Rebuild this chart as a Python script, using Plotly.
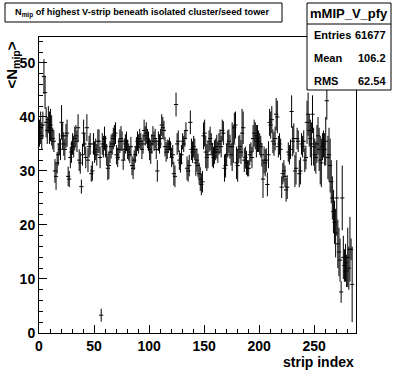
import plotly.graph_objects as go

# ---- data: mean N_mip per strip (profile), with errors ----
strip_values = [
    37.0, 38.0, 36.5, 38.5, 47.5, 44.5, 39.0, 37.5, 39.5, 38.0,
    38.5, 37.5, 36.0, 35.5, 30.0, 29.0, 31.5, 33.0, 35.0, 34.0,
    39.0, 36.5, 35.0, 34.0, 36.5, 37.0, 29.0, 28.5, 32.5, 33.5,
    35.0, 34.5, 36.0, 36.5, 35.5, 38.0, 32.0, 31.5, 27.1, 33.0,
    37.0, 35.0, 32.5, 38.0, 32.0, 34.5, 35.0, 29.5, 30.0, 35.0,
    33.5, 34.0, 33.0, 35.5, 35.5, 32.5, 3.3, 35.0, 34.5, 36.0,
    34.5, 33.0, 30.5, 31.0, 33.5, 34.5, 35.0, 36.0, 36.5, 37.0,
    33.0, 32.5, 34.0, 35.5, 36.0, 35.5, 32.0, 34.0, 35.0, 35.5,
    34.0, 33.5, 33.0, 34.5, 31.0, 30.5, 32.0, 33.0, 34.5, 35.5,
    35.0, 36.0, 35.5, 34.0, 35.0, 37.5, 36.5, 37.0, 36.0, 35.5,
    34.0, 33.5, 35.0, 36.5, 35.5, 36.0, 34.0, 30.0, 35.5, 35.0,
    36.0, 38.5, 38.0, 37.5, 34.5, 33.5, 34.0, 34.5, 35.0, 34.0,
    32.5, 33.0, 29.5, 29.0, 42.3, 35.0, 35.5, 32.0, 31.5, 33.0,
    35.5, 35.0, 36.0, 37.5, 30.5, 30.0, 31.0, 39.0, 34.0, 33.5,
    34.5, 34.0, 31.5, 32.0, 31.0, 29.5, 28.5, 27.5, 28.0, 36.5,
    37.0, 33.5, 32.5, 33.0, 35.5, 36.0, 35.0, 33.0, 32.5, 33.5,
    34.0, 34.5, 33.5, 35.0, 35.5, 34.5, 37.5, 37.0, 30.5, 31.0,
    33.0, 35.0, 35.5, 34.5, 33.0, 34.5, 35.0, 38.0, 38.5, 31.5,
    31.0, 34.0, 34.5, 33.5, 37.0, 38.0, 32.0, 32.5, 31.5, 30.5,
    30.5, 33.0, 33.5, 32.5, 36.0, 37.0, 36.5, 35.5, 36.0, 35.5,
    35.0, 34.5, 33.0, 28.5, 32.0, 31.5, 32.0, 27.5, 33.0, 39.0,
    38.5, 39.5, 35.5, 35.0, 36.0, 40.5, 40.0, 34.5, 35.0, 34.0,
    27.0, 29.5, 30.0, 29.0, 26.5, 27.0, 33.5, 33.0, 34.0, 41.0,
    35.5, 36.0, 30.0, 30.5, 36.0, 35.5, 29.5, 30.0, 35.0, 34.5,
    35.5, 32.0, 32.5, 39.0, 40.5, 37.5, 36.0, 35.0, 40.5, 34.5,
    33.0, 32.5, 35.0, 36.5, 34.0, 32.0, 31.5, 34.5, 35.0, 34.0,
    35.5, 43.0, 32.5, 33.0, 31.0, 28.0, 25.0, 22.5, 20.5, 18.5,
    25.0, 16.5, 15.0, 13.5, 7.6, 25.0, 14.0, 12.5, 13.0, 11.5,
    14.0, 12.0, 15.5, 15.5, 9.0, None, None, None,
]
strip_errors = [
    2.5, 3.0, 2.5, 2.5, 3.2, 3.0, 2.8, 2.5, 2.5, 3.0,
    3.0, 2.8, 2.0, 2.0, 2.2, 2.5, 2.0, 2.0, 2.0, 2.0,
    3.2, 2.5, 2.2, 2.0, 2.2, 2.5, 1.8, 1.5, 2.0, 2.0,
    2.0, 2.0, 2.2, 2.0, 2.0, 2.5, 2.0, 2.0, 1.3, 2.0,
    2.5, 2.0, 2.0, 2.5, 2.2, 2.0, 2.0, 1.5, 1.8, 2.0,
    2.0, 2.0, 2.0, 2.2, 2.2, 2.0, 1.2, 2.0, 2.0, 2.2,
    2.0, 2.0, 2.2, 2.5, 2.0, 2.2, 2.0, 2.0, 2.0, 2.0,
    1.8, 1.8, 2.0, 2.2, 2.3, 1.8, 1.8, 2.0, 1.8, 1.8,
    1.8, 1.6, 1.6, 1.8, 1.8, 2.0, 1.8, 1.5, 1.8, 1.8,
    1.8, 1.8, 1.5, 1.8, 1.8, 2.0, 1.8, 2.0, 1.8, 1.8,
    2.0, 2.2, 1.8, 1.8, 1.8, 1.8, 1.8, 2.0, 1.8, 1.8,
    1.8, 2.0, 2.0, 1.8, 1.8, 1.8, 1.8, 1.2, 1.2, 1.5,
    1.8, 1.8, 2.2, 2.0, 2.2, 2.0, 2.0, 1.8, 1.8, 1.8,
    1.5, 1.5, 1.5, 1.5, 2.2, 2.0, 2.0, 2.2, 2.0, 2.0,
    2.0, 2.0, 2.4, 2.2, 2.2, 2.0, 2.2, 2.0, 2.0, 2.5,
    2.5, 3.0, 2.5, 2.5, 2.0, 2.2, 2.0, 2.2, 2.0, 2.2,
    2.0, 2.2, 2.0, 2.0, 2.2, 2.0, 2.0, 2.2, 2.5, 2.2,
    2.0, 2.5, 2.2, 2.2, 2.0, 4.5, 3.5, 2.8, 2.5, 3.0,
    3.0, 2.5, 2.2, 2.2, 4.5, 3.0, 2.2, 2.0, 2.2, 1.5,
    1.5, 2.0, 1.8, 2.0, 2.5, 2.5, 2.5, 3.0, 2.5, 2.0,
    2.0, 2.0, 2.2, 3.5, 2.5, 2.5, 2.2, 2.2, 2.5, 2.5,
    2.5, 2.5, 2.2, 2.2, 2.2, 3.0, 3.0, 2.0, 2.0, 2.0,
    2.0, 2.0, 2.0, 2.0, 2.2, 2.2, 1.8, 1.8, 1.8, 3.0,
    2.8, 2.8, 3.0, 3.0, 2.0, 2.0, 2.5, 2.5, 2.0, 2.0,
    2.0, 2.2, 2.2, 4.0, 4.0, 3.0, 3.5, 4.0, 3.5, 3.5,
    3.0, 3.0, 3.5, 3.5, 4.0, 4.5, 4.5, 2.5, 2.5, 3.0,
    4.5, 3.5, 4.0, 5.0, 5.0, 4.0, 4.0, 4.0, 4.0, 4.5,
    7.0, 4.5, 4.5, 4.0, 2.0, 6.0, 4.0, 3.0, 3.5, 3.0,
    5.5, 4.0, 6.0, 2.0, 7.0, None, None, None,
]
strip_centers = [i + 0.5 for i in range(len(strip_values))]

x_ticks = [0, 50, 100, 150, 200, 250]
y_ticks = [0, 10, 20, 30, 40, 50]

title_text = "<b>N<sub>mip</sub> of highest V-strip beneath isolated cluster/seed tower</b>"
stats_name = "mMIP_V_pfy"
stats_labels = ["Entries", "Mean", "RMS"]
stats_vals = ["61677", "106.2", "62.54"]

# ---- layout geometry (pixels) ----
W, H = 396, 372
L, R, T, B = 39, 356, 37, 333
pw, ph = R - L, B - T


def px(x):
    return (x - L) / pw


def py(y):
    return (B - y) / ph


font_b = dict(family="Liberation Sans, Arial, sans-serif", color="black", weight="bold")

fig = go.Figure()
fig.add_trace(go.Scatter(
    x=strip_centers, y=strip_values, mode="markers",
    marker=dict(symbol="line-ew", size=3, color="black",
                line=dict(width=1, color="black")),
    error_y=dict(type="data", array=strip_errors, visible=True,
                 color="black", thickness=1, width=0),
    showlegend=False, hoverinfo="skip",
))

fig.update_layout(
    width=W, height=H,
    margin=dict(l=L, r=W - R, t=T, b=H - B, pad=0),
    paper_bgcolor="white", plot_bgcolor="white",
    xaxis=dict(range=[0, 288], showgrid=False, zeroline=False,
               showline=True, linecolor="black", linewidth=1, mirror=True,
               ticks="inside", ticklen=8, tickcolor="black", tickwidth=1,
               tickvals=x_ticks, ticktext=[str(v) for v in x_ticks],
               tickfont=dict(size=14, **font_b),
               minor=dict(ticks="inside", ticklen=4, dtick=10, tick0=0,
                          tickcolor="black", showgrid=False)),
    yaxis=dict(range=[0, 54.8], showgrid=False, zeroline=False,
               showline=True, linecolor="black", linewidth=1, mirror=True,
               ticks="inside", ticklen=8, tickcolor="black", tickwidth=1,
               tickvals=y_ticks, ticktext=[str(v) for v in y_ticks],
               tickfont=dict(size=14, **font_b),
               minor=dict(ticks="inside", ticklen=4, dtick=2, tick0=0,
                          tickcolor="black", showgrid=False)),
)

shapes = []
# title box
shapes.append(dict(type="rect", xref="paper", yref="paper",
                   x0=px(5), x1=px(282), y0=py(22), y1=py(3),
                   line=dict(color="black", width=1), fillcolor="white",
                   layer="above"))
# stats box
shapes.append(dict(type="rect", xref="paper", yref="paper",
                   x0=px(307), x1=px(391), y0=py(90), y1=py(3),
                   line=dict(color="black", width=1), fillcolor="white",
                   layer="above"))
shapes.append(dict(type="line", xref="paper", yref="paper",
                   x0=px(307), x1=px(391), y0=py(24), y1=py(24),
                   line=dict(color="black", width=1), layer="above"))
fig.update_layout(shapes=shapes)

ann = []
ann.append(dict(xref="paper", yref="paper", x=px(142), y=py(12.5),
                text=title_text, showarrow=False, xanchor="center",
                yanchor="middle", font=dict(size=9.2, **font_b)))
ann.append(dict(xref="paper", yref="paper", x=px(349), y=py(13.5),
                text="<b>" + stats_name + "</b>", showarrow=False,
                xanchor="center", yanchor="middle", font=dict(size=13, **font_b)))
for i, (lab, val) in enumerate(zip(stats_labels, stats_vals)):
    yy = 35 + i * 23
    ann.append(dict(xref="paper", yref="paper", x=px(312), y=py(yy),
                    text="<b>" + lab + "</b>", showarrow=False,
                    xanchor="left", yanchor="middle", font=dict(size=11, **font_b)))
    ann.append(dict(xref="paper", yref="paper", x=px(388), y=py(yy),
                    text="<b>" + val + "</b>", showarrow=False,
                    xanchor="right", yanchor="middle", font=dict(size=11, **font_b)))
# axis titles
ann.append(dict(xref="paper", yref="paper", x=px(356), y=py(362),
                text="<b>strip index</b>", showarrow=False,
                xanchor="right", yanchor="middle", font=dict(size=14, **font_b)))
ann.append(dict(xref="paper", yref="paper", x=px(12), y=py(40),
                text="<b>&lt;N<sub>mip</sub>&gt;</b>", showarrow=False,
                textangle=-90, xanchor="center", yanchor="top",
                font=dict(size=15, **font_b)))
fig.update_layout(annotations=ann)

fig.write_html("out.html", config={"displayModeBar": False},
               post_script="document.body.style.margin='0px';document.body.style.padding='0px';")
